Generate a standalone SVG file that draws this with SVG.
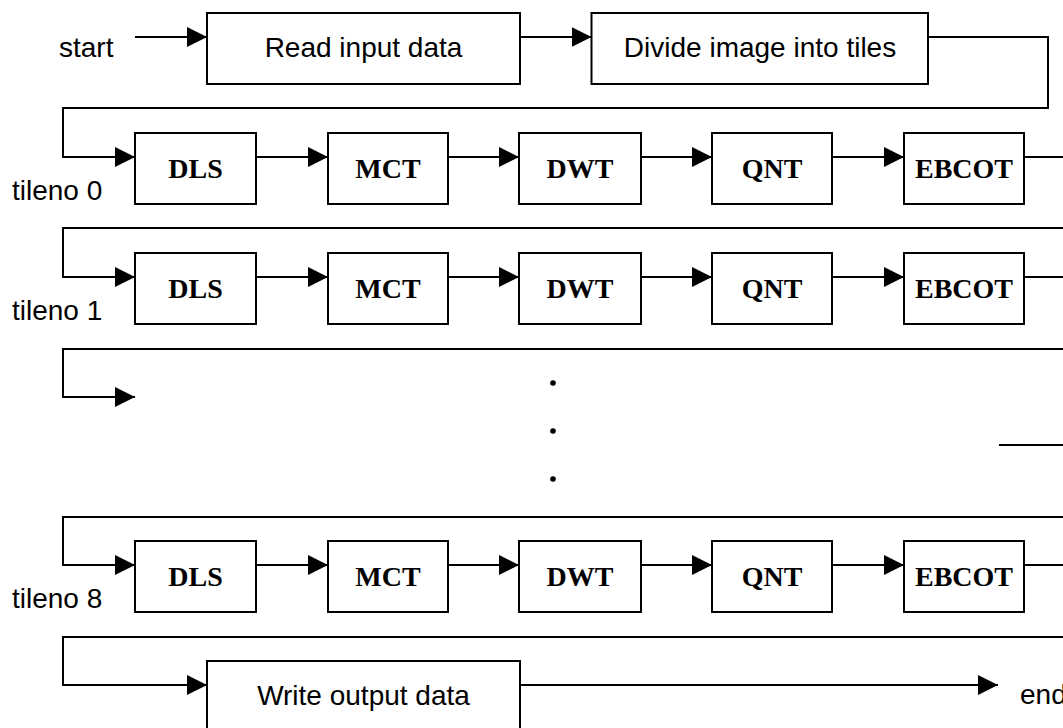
<svg xmlns="http://www.w3.org/2000/svg" width="1063" height="728" viewBox="0 0 1063 728">
<style>
.box{fill:#fff;stroke:#000;stroke-width:2}
.c{fill:none;stroke:#000;stroke-width:2}
.a{marker-end:url(#ah)}
.sans{font-family:"Liberation Sans",Arial,sans-serif;font-size:28px;fill:#000}
.ser{font-family:"Liberation Serif","Times New Roman",serif;font-size:28px;font-weight:bold;fill:#000;text-anchor:middle}
.mid{text-anchor:middle}
</style>
<defs>
<marker id="ah" viewBox="0 0 20 20" refX="20" refY="10" markerWidth="20" markerHeight="20" markerUnits="userSpaceOnUse" orient="auto">
<path d="M0,0 L20,10 L0,20 Z" fill="#000"/>
</marker>
</defs>
<rect width="1063" height="728" fill="#fff"/>
<g id="connectors">
<path class="c a" d="M135,37 H207"/>
<path class="c a" d="M520,37 H591.5"/>
<path class="c a" d="M928,37 H1048 V108 H63 V157 H135"/>
<path class="c a" d="M256,157 H328"/>
<path class="c a" d="M448,157 H519"/>
<path class="c a" d="M641,157 H712"/>
<path class="c a" d="M832,157 H904"/>
<path class="c" d="M1024,157 H1063"/>
<path class="c a" d="M1063,228 H63 V277 H135"/>
<path class="c a" d="M256,277 H328"/>
<path class="c a" d="M448,277 H519"/>
<path class="c a" d="M641,277 H712"/>
<path class="c a" d="M832,277 H904"/>
<path class="c" d="M1024,277 H1063"/>
<path class="c a" d="M1063,349 H63 V397 H135"/>
<path class="c" d="M999,445 H1063"/>
<path class="c a" d="M1063,517 H63 V565 H135"/>
<path class="c a" d="M256,565 H328"/>
<path class="c a" d="M448,565 H519"/>
<path class="c a" d="M641,565 H712"/>
<path class="c a" d="M832,565 H904"/>
<path class="c" d="M1024,565 H1063"/>
<path class="c a" d="M1063,637 H63 V685 H207"/>
<path class="c a" d="M520,685 H998"/>
</g>
<g id="start"><text class="sans" x="59" y="57">start</text></g>
<g id="end"><text class="sans" x="1020" y="704">end</text></g>
<g id="read"><rect class="box" x="207" y="13" width="313" height="71"/><text class="sans mid" x="363.5" y="57">Read input data</text></g>
<g id="divide"><rect class="box" x="591.5" y="13" width="336.5" height="71"/><text class="sans mid" x="760" y="57">Divide image into tiles</text></g>
<g id="label0"><text class="sans" x="12" y="200">tileno 0</text></g>
<g id="dls0"><rect class="box" x="135" y="133" width="121" height="71"/><text class="ser" x="195.5" y="178">DLS</text></g>
<g id="mct0"><rect class="box" x="328" y="133" width="120" height="71"/><text class="ser" x="388" y="178">MCT</text></g>
<g id="dwt0"><rect class="box" x="519" y="133" width="122" height="71"/><text class="ser" x="580" y="178">DWT</text></g>
<g id="qnt0"><rect class="box" x="712" y="133" width="120" height="71"/><text class="ser" x="772" y="178">QNT</text></g>
<g id="ebcot0"><rect class="box" x="904" y="133" width="120" height="71"/><text class="ser" x="964" y="178">EBCOT</text></g>
<g id="label1"><text class="sans" x="12" y="320">tileno 1</text></g>
<g id="dls1"><rect class="box" x="135" y="253" width="121" height="71"/><text class="ser" x="195.5" y="298">DLS</text></g>
<g id="mct1"><rect class="box" x="328" y="253" width="120" height="71"/><text class="ser" x="388" y="298">MCT</text></g>
<g id="dwt1"><rect class="box" x="519" y="253" width="122" height="71"/><text class="ser" x="580" y="298">DWT</text></g>
<g id="qnt1"><rect class="box" x="712" y="253" width="120" height="71"/><text class="ser" x="772" y="298">QNT</text></g>
<g id="ebcot1"><rect class="box" x="904" y="253" width="120" height="71"/><text class="ser" x="964" y="298">EBCOT</text></g>
<g id="dots"><circle cx="553" cy="383" r="2.8"/><circle cx="553" cy="431" r="2.8"/><circle cx="553" cy="479" r="2.8"/></g>
<g id="label8"><text class="sans" x="12" y="608">tileno 8</text></g>
<g id="dls8"><rect class="box" x="135" y="541" width="121" height="71"/><text class="ser" x="195.5" y="586">DLS</text></g>
<g id="mct8"><rect class="box" x="328" y="541" width="120" height="71"/><text class="ser" x="388" y="586">MCT</text></g>
<g id="dwt8"><rect class="box" x="519" y="541" width="122" height="71"/><text class="ser" x="580" y="586">DWT</text></g>
<g id="qnt8"><rect class="box" x="712" y="541" width="120" height="71"/><text class="ser" x="772" y="586">QNT</text></g>
<g id="ebcot8"><rect class="box" x="904" y="541" width="120" height="71"/><text class="ser" x="964" y="586">EBCOT</text></g>
<g id="write"><rect class="box" x="207" y="661" width="313" height="71"/><text class="sans mid" x="363.5" y="705">Write output data</text></g>
</svg>
